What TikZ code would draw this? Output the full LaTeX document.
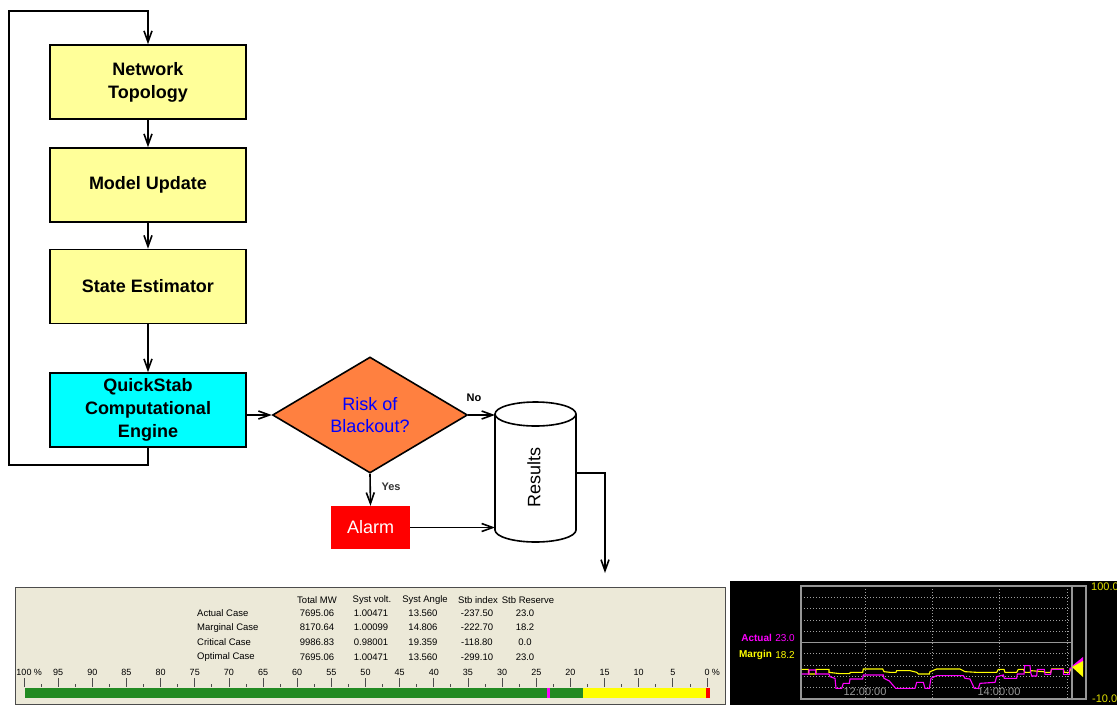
\documentclass[tikz,border=0pt]{standalone}
\usepackage{fontspec}
\setmainfont{Liberation Sans}
\usetikzlibrary{arrows.meta, shapes.geometric}

\definecolor{amarillocaja}{RGB}{255,255,153}
\definecolor{cian}{RGB}{0,255,255}
\definecolor{naranja}{RGB}{255,128,64}
\definecolor{fondo}{RGB}{236,233,216}
\definecolor{verde}{RGB}{34,139,34}
\definecolor{grisgraf}{RGB}{150,150,150}
\definecolor{amarilloet}{RGB}{225,225,0}
\definecolor{amarillo}{RGB}{255,255,0}
\definecolor{magentaf}{RGB}{255,0,255}
\definecolor{rojo}{RGB}{255,0,0}
\definecolor{azul}{RGB}{0,0,255}

\begin{document}
\begin{tikzpicture}[x=1pt, y=-1pt,
  caja/.style={draw, line width=1.6pt, minimum width=196pt, minimum height=74pt,
    inner sep=0pt, align=center, font=\fontsize{18}{23}\selectfont\bfseries},
  flujo/.style={-{Straight Barb[length=11pt, width=8pt]}, line width=1.6pt},
  tabla/.style={font=\fontsize{9.5}{11}\selectfont, inner sep=0pt},
  escala/.style={font=\fontsize{9}{10}\selectfont, inner sep=0pt},
  rejilla/.style={gray!75, line width=0.8pt, dash pattern=on 1pt off 2pt},
  etq/.style={font=\fontsize{11}{12}\selectfont\bfseries, inner sep=0pt}]

	% Parámetros de la escala inferior
	\def\Xcero{24}      % Posición x del 100 %
	\def\Paso{6.83}     % Ancho de 1 % en la barra
	\def\Ybarra{688}    % Borde superior de la barra

	\useasboundingbox (0,0) rectangle (1117,705);
	\clip (0,0) rectangle (1117,705);

	% --- 1. DIAGRAMA DE FLUJO ---
	\node[caja, fill=amarillocaja] (topo) at (148,82) {Network\\Topology};
	\node[caja, fill=amarillocaja] (modelo) at (148,185) {Model Update};
	\node[caja, fill=amarillocaja] (estim) at (148,286.5) {State Estimator};
	\node[caja, fill=cian] (motor) at (148,410) {QuickStab\\Computational\\Engine};

	\draw[flujo] (topo) -- (modelo);
	\draw[flujo] (modelo) -- (estim);
	\draw[flujo] (estim) -- (motor);

	% Lazo de realimentación
	\coordinate (lazo) at (9,11);
	\draw[flujo] (motor.south) -- ++(0,17) -| (lazo) -| (topo.north);

	% Decisión
	\node[diamond, draw, line width=1.6pt, fill=naranja, aspect=1.68,
	  minimum width=195pt, minimum height=116pt, inner sep=0pt, align=center,
	  text=azul, font=\fontsize{18}{22}\selectfont] (riesgo) at (370,415) {Risk of\\Blackout?};
	\draw[flujo] (motor.east |- riesgo.west) -- (riesgo.west);

	% Alarma
	\node[fill=rojo, text=white, minimum width=79pt, minimum height=43pt, inner sep=0pt,
	  font=\fontsize{18}{21}\selectfont] (alarma) at (370.5,527.5) {Alarm};
	\draw[flujo] (riesgo.south) -- (alarma.north);
	\node[etq, text=black!80] (si) at (391,487) {Yes};

	% Cilindro de resultados
	\draw[line width=1.6pt, fill=white] (495,414) -- (495,530)
	  arc[start angle=180, end angle=0, x radius=40.5, y radius=12] -- (576,414);
	\draw[line width=1.6pt, fill=white] (535.5,414) ellipse[x radius=40.5, y radius=12];
	\node[rotate=90, font=\fontsize{18}{21}\selectfont, inner sep=0pt] (result) at (534,477) {Results};
	\coordinate (resNo) at (495,415);
	\coordinate (resAl) at (495,529);
	\coordinate (resSal) at (576,473);
	\coordinate (bajada) at (605,573);

	\draw[flujo] (riesgo.east) -- (riesgo.east -| resNo);
	\node[etq] (no) at (474,398) {No};
	\draw[flujo] (alarma.east) -- (alarma.east -| resAl);
	\draw[flujo] (resSal) -| (bajada);

	% --- 2. PANEL DE RESULTADOS (TABLA Y ESCALA) ---
	\draw[fill=fondo, draw=gray!60!black, line width=1pt] (15,587) rectangle (725,704);

	\node[tabla] (cMW) at (317,600) {Total MW};
	\node[tabla] (cVolt) at (372,600) {Syst volt.};
	\node[tabla] (cAng) at (425,600) {Syst Angle};
	\node[tabla] (cIdx) at (478,600) {Stb index};
	\node[tabla] (cRes) at (528,600) {Stb Reserve};

	\foreach \caso/\mw/\volt/\ang/\idx/\res [count=\i] in {
	    Actual Case/7695.06/1.00471/13.560/-237.50/23.0,
	    Marginal Case/8170.64/1.00099/14.806/-222.70/18.2,
	    Critical Case/9986.83/0.98001/19.359/-118.80/0.0,
	    Optimal Case/7695.06/1.00471/13.560/-299.10/23.0} {
	  \node[tabla, anchor=west] (caso\i) at (197,598.5+14.6*\i) {\caso};
	  \node[tabla] (mw\i) at (317,598.5+14.6*\i) {\mw};
	  \node[tabla] (volt\i) at (371,598.5+14.6*\i) {\volt};
	  \node[tabla] (ang\i) at (423,598.5+14.6*\i) {\ang};
	  \node[tabla] (idx\i) at (477,598.5+14.6*\i) {\idx};
	  \node[tabla] (res\i) at (525,598.5+14.6*\i) {\res};
	}

	% Marcas de la escala
	\foreach \p in {0,5,...,100} {
	  \draw[gray!60!black, line width=0.8pt] ({\Xcero+(100-\p)*\Paso},678) -- ++(0,9);
	}
	\foreach \p in {2.5,7.5,...,97.5} {
	  \draw[gray!60!black, line width=0.8pt] ({\Xcero+(100-\p)*\Paso},684) -- ++(0,3);
	}
	\foreach \p in {5,10,...,95} {
	  \node[escala] (esc\p) at ({\Xcero+(100-\p)*\Paso},672) {\p};
	}
	\node[escala] (esc100) at (\Xcero,672) {100};
	\node[escala, anchor=west] (pct100) at ([xshift=2pt]esc100.east) {\%};
	\node[escala] (esc0) at ({\Xcero+100*\Paso},672) {0};
	\node[escala, anchor=west] (pct0) at ([xshift=2pt]esc0.east) {\%};

	% Barra de reserva
	\fill[verde] (25,\Ybarra) rectangle (583,\Ybarra+10);
	\fill[amarillo] (583,\Ybarra) rectangle (707,\Ybarra+10);
	\fill[rojo] (706,\Ybarra) rectangle (710,\Ybarra+10);
	\fill[magentaf] (547,\Ybarra) rectangle (550,\Ybarra+10);

	% --- 3. GRÁFICO DE TENDENCIA ---
	\fill[black] (730,581) rectangle (1117,705);

	\foreach \k in {1,...,9} {
	  \ifnum\k=5
	    \draw[grisgraf, line width=1.2pt] (801,{586+11.3*\k}) -- (1072,{586+11.3*\k});
	  \else
	    \draw[rejilla] (801,{586+11.3*\k}) -- (1072,{586+11.3*\k});
	  \fi
	}
	\foreach \xg in {865,932,999,1067} {
	  \draw[rejilla] (\xg,586) -- (\xg,699);
	}
	\draw[grisgraf, line width=1.5pt] (801,586) rectangle (1072,699);
	\draw[grisgraf, line width=1.5pt] (1072,586) rectangle (1086,699);

	\node[font=\fontsize{11}{12}\selectfont, text=gray!80, inner sep=0pt] (t12) at (865,692) {12:00:00};
	\node[font=\fontsize{11}{12}\selectfont, text=gray!80, inner sep=0pt] (t14) at (999,692) {14:00:00};

	% Curvas escalonadas (coordenadas del recorte x3)
	\begin{scope}[shift={(730,575)}, scale=1/3]
	  \draw[amarillo, line width=1.1pt] (215,283) -- (235,283) -- (235,297) -- (258,297) -- (258,283)
	    -- (297,283) -- (297,292) -- (330,296) -- (358,296) -- (362,292) -- (398,292) -- (400,282)
	    -- (458,282) -- (462,290) -- (480,292) -- (498,292) -- (500,287) -- (540,287) -- (560,292)
	    -- (565,297) -- (598,297) -- (600,290) -- (620,282) -- (690,282) -- (705,290) -- (740,292)
	    -- (800,292) -- (805,283) -- (822,283) -- (825,292) -- (860,292) -- (865,283) -- (880,283)
	    -- (885,292) -- (900,292) -- (903,287) -- (940,290) -- (945,292) -- (962,292) -- (965,282)
	    -- (1000,282) -- (1003,292) -- (1018,292) -- (1022,282);
	  \draw[magentaf, line width=1.1pt] (215,297) -- (237,297) -- (237,285) -- (257,285) -- (257,297)
	    -- (297,297) -- (300,305) -- (315,310) -- (318,340) -- (335,340) -- (340,325) -- (358,325)
	    -- (360,312) -- (398,312) -- (400,300) -- (460,300) -- (462,310) -- (478,318) -- (497,340)
	    -- (555,340) -- (560,322) -- (580,322) -- (585,340) -- (598,340) -- (603,310) -- (620,302)
	    -- (700,302) -- (705,310) -- (720,312) -- (733,340) -- (745,340) -- (750,325) -- (795,322)
	    -- (800,305) -- (820,300) -- (823,310) -- (860,310) -- (862,297) -- (882,297) -- (884,272)
	    -- (900,272) -- (902,292) -- (905,303) -- (920,303) -- (922,283) -- (943,283) -- (945,298)
	    -- (962,298) -- (964,283) -- (1000,283) -- (1000,298) -- (1018,298) -- (1020,280) -- (1025,278);
	\end{scope}

	% Indicadores de nivel
	\fill[magentaf] (1072,666) -- (1083,657) -- (1083,667) -- cycle;
	\fill[amarillo] (1072,667) -- (1083,661) -- (1083,677) -- cycle;

	% Valores actuales
	\node[anchor=east, text=magentaf, font=\fontsize{10}{12}\selectfont, inner sep=0pt] (vAct) at (795,638) {23.0};
	\node[anchor=east, text=magentaf, font=\fontsize{10}{12}\selectfont\bfseries, inner sep=0pt] (nAct) at ([xshift=-3pt]vAct.west) {Actual};
	\node[anchor=east, text=amarillo, font=\fontsize{10}{12}\selectfont, inner sep=0pt] (vMar) at (795,655) {18.2};
	\node[anchor=east, text=amarillo, font=\fontsize{10}{12}\selectfont\bfseries, inner sep=0pt] (nMar) at ([xshift=-3pt]vMar.west) {Margin};

	% Límites del eje
	\node[anchor=west, text=amarilloet, font=\fontsize{11}{12}\selectfont, inner sep=0pt] (ymax) at (1091,587) {100.0};
	\node[anchor=west, text=amarilloet, font=\fontsize{11}{12}\selectfont, inner sep=0pt] (ymin) at (1092,699) {-10.0};

\end{tikzpicture}
\end{document}
